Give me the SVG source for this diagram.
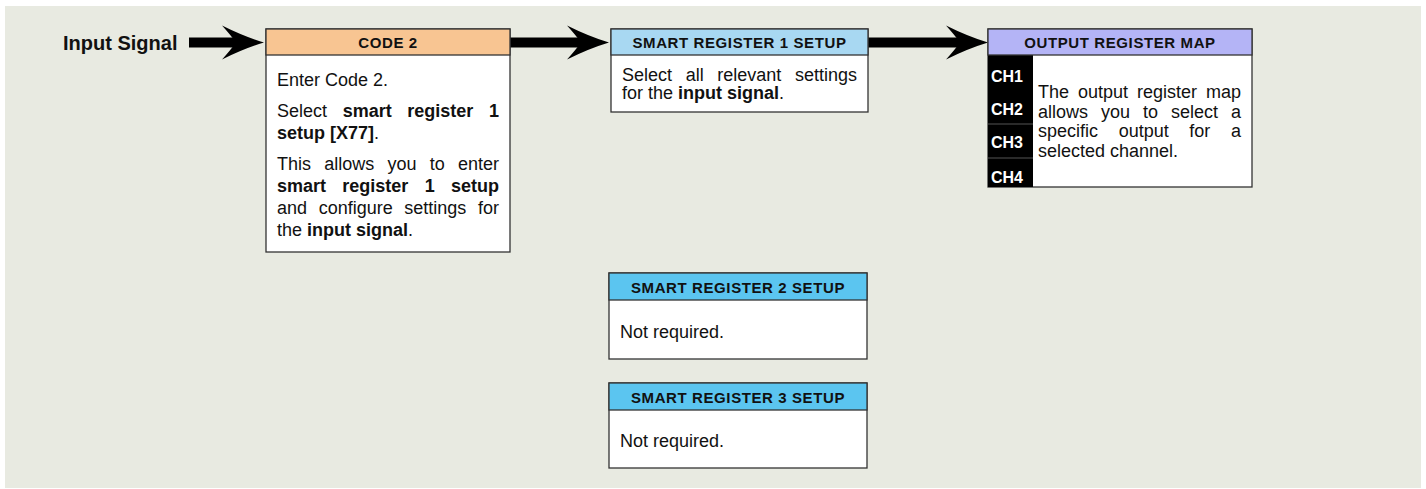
<svg xmlns="http://www.w3.org/2000/svg" width="1426" height="489" viewBox="0 0 1426 489">
<style>
.bg{fill:#E8EAE1}
.box{fill:#FFFFFF;stroke:#333333;stroke-width:1.3}
.hd{stroke:#333333;stroke-width:1.3}
.hdt{font-family:"Liberation Sans",Arial,sans-serif;font-weight:bold;font-size:15px;letter-spacing:0.6px;fill:#111111;text-anchor:middle}
.t{font-family:"Liberation Sans",Arial,sans-serif;font-size:18px;fill:#111111}
.b{font-weight:bold}
.lbl{font-family:"Liberation Sans",Arial,sans-serif;font-weight:bold;font-size:20px;fill:#111111}
.ch{font-family:"Liberation Sans",Arial,sans-serif;font-weight:bold;font-size:16px;fill:#FFFFFF}
.conn{stroke:#000000;stroke-width:10;fill:none;marker-end:url(#head)}
</style>
<defs>
<marker id="head" markerUnits="userSpaceOnUse" viewBox="-15 -18 44 36" refX="0" refY="0" markerWidth="44" markerHeight="36" orient="auto" overflow="visible">
<path d="M28,0 Q8,-6 -14,-17 Q-5,-7 0,0 Q-5,7 -14,17 Q8,6 28,0 Z" fill="#000000"/>
</marker>
</defs>
<rect class="bg" x="5" y="6" width="1416" height="482"/>
<g id="input-signal">
<text class="lbl" x="63" y="49.5">Input Signal</text>
</g>
<g id="connectors">
<line class="conn" x1="189" y1="42.5" x2="236" y2="42.5"/>
<line class="conn" x1="510" y1="42.5" x2="581" y2="42.5"/>
<line class="conn" x1="868" y1="42.5" x2="960" y2="42.5"/>
</g>
<g id="code2">
<rect class="box" x="266" y="29" width="244" height="223"/>
<rect class="hd" x="266" y="29" width="244" height="26" fill="#F8C592"/>
<text class="hdt" x="388" y="48">CODE 2</text>
<text class="t" y="86"><tspan x="277">Enter Code 2.</tspan></text>
<text class="t" y="117"><tspan x="277">Select</tspan><tspan class="b" x="342.7">smart</tspan><tspan class="b" x="407.3">register</tspan><tspan class="b" x="489">1</tspan></text>
<text class="t" y="139"><tspan x="277" class="b">setup [X77]</tspan><tspan>.</tspan></text>
<text class="t" y="170"><tspan x="277">This</tspan><tspan x="324.3">allows</tspan><tspan x="387.5">you</tspan><tspan x="429.8">to</tspan><tspan x="458">enter</tspan></text>
<text class="t b" y="192"><tspan x="277">smart</tspan><tspan x="342.3">register</tspan><tspan x="424.7">1</tspan><tspan x="451">setup</tspan></text>
<text class="t" y="214"><tspan x="277">and</tspan><tspan x="318.7">configure</tspan><tspan x="404.3">settings</tspan><tspan x="478">for</tspan></text>
<text class="t" y="236"><tspan x="277">the </tspan><tspan class="b">input signal</tspan><tspan>.</tspan></text>
</g>
<g id="smart-register-1">
<rect class="box" x="611" y="29" width="257" height="83"/>
<rect class="hd" x="611" y="29" width="257" height="26" fill="#A8D8F2"/>
<text class="hdt" x="739.5" y="48">SMART REGISTER 1 SETUP</text>
<text class="t" y="81"><tspan x="622">Select</tspan><tspan x="685.7">all</tspan><tspan x="717.3">relevant</tspan><tspan x="795">settings</tspan></text>
<text class="t" y="99"><tspan x="622">for the </tspan><tspan class="b">input signal</tspan><tspan>.</tspan></text>
</g>
<g id="output-register-map">
<rect class="box" x="988" y="29" width="264" height="158"/>
<rect x="988" y="55" width="45" height="132" fill="#000000"/>
<line x1="988" y1="124" x2="1033" y2="124" stroke="#555555" stroke-width="1"/>
<line x1="988" y1="158" x2="1033" y2="158" stroke="#555555" stroke-width="1"/>
<rect class="hd" x="988" y="29" width="264" height="26" fill="#B4B4F6"/>
<text class="hdt" x="1120" y="48">OUTPUT REGISTER MAP</text>
<text class="ch" x="991" y="82">CH1</text>
<text class="ch" x="991" y="115">CH2</text>
<text class="ch" x="991" y="148">CH3</text>
<text class="ch" x="991" y="183">CH4</text>
<text class="t" y="98"><tspan x="1038">The</tspan><tspan x="1078">output</tspan><tspan x="1137">register</tspan><tspan x="1206">map</tspan></text>
<text class="t" y="117.5"><tspan x="1038">allows</tspan><tspan x="1101">you</tspan><tspan x="1143">to</tspan><tspan x="1171">select</tspan><tspan x="1231">a</tspan></text>
<text class="t" y="137"><tspan x="1038">specific</tspan><tspan x="1118.7">output</tspan><tspan x="1189.3">for</tspan><tspan x="1231">a</tspan></text>
<text class="t" y="156.5"><tspan x="1038">selected channel.</tspan></text>
</g>
<g id="smart-register-2">
<rect class="box" x="609" y="273" width="258" height="86"/>
<rect class="hd" x="609" y="273" width="258" height="27" fill="#5BC5F0"/>
<text class="hdt" x="738" y="293">SMART REGISTER 2 SETUP</text>
<text class="t" x="620" y="338">Not required.</text>
</g>
<g id="smart-register-3">
<rect class="box" x="609" y="383" width="258" height="85"/>
<rect class="hd" x="609" y="383" width="258" height="27" fill="#5BC5F0"/>
<text class="hdt" x="738" y="403">SMART REGISTER 3 SETUP</text>
<text class="t" x="620" y="447">Not required.</text>
</g>
</svg>
